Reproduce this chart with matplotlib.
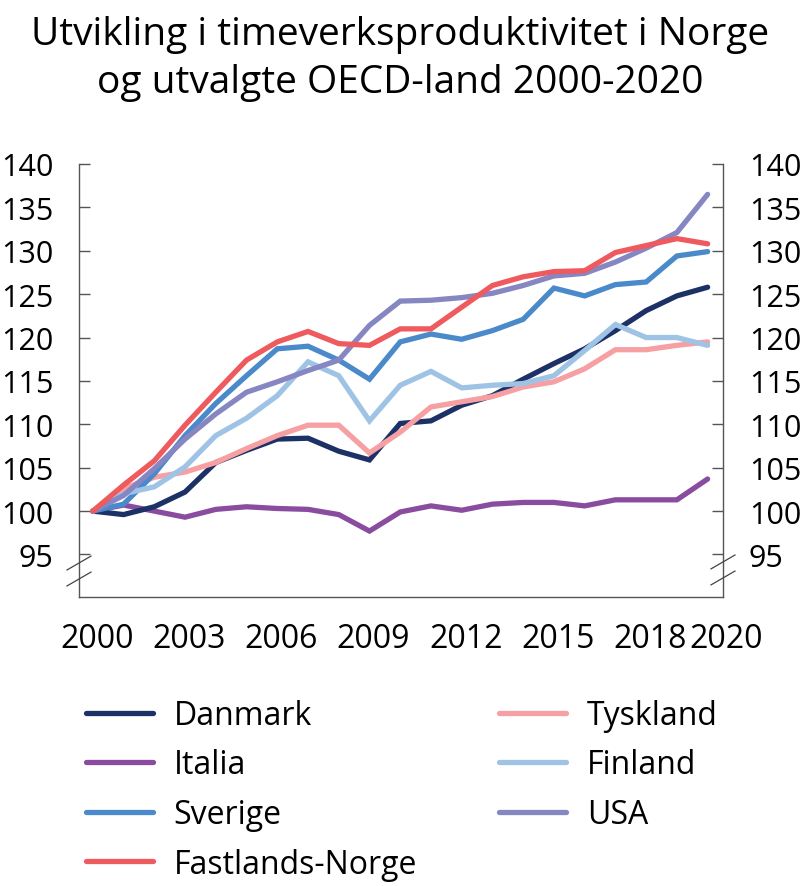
import matplotlib
matplotlib.use("Agg")
import matplotlib.pyplot as plt
from matplotlib.transforms import ScaledTranslation

plt.rcParams['font.family'] = ['Open Sans', 'DejaVu Sans']

years = list(range(2000, 2021))
danmark = [100, 99.6, 100.5, 102.2, 105.6, 107.0, 108.3, 108.4, 106.9, 105.9,
           110.1, 110.4, 112.2, 113.3, 115.2, 117.0, 118.7, 120.8, 123.1, 124.8, 125.8]
italia = [100, 100.7, 100.0, 99.3, 100.2, 100.5, 100.3, 100.2, 99.6, 97.7,
          99.9, 100.6, 100.1, 100.8, 101.0, 101.0, 100.6, 101.3, 101.3, 101.3, 103.7]
sverige = [100, 100.8, 104.3, 108.7, 112.4, 115.6, 118.7, 119.0, 117.4, 115.2,
           119.5, 120.4, 119.8, 120.8, 122.1, 125.7, 124.8, 126.1, 126.4, 129.4, 129.9]
fastlands = [100, 103.0, 105.8, 109.9, 113.7, 117.4, 119.5, 120.7, 119.3, 119.1,
             121.0, 121.0, 123.5, 126.0, 127.0, 127.6, 127.7, 129.8, 130.6, 131.4, 130.8]
tyskland = [100, 102.6, 103.9, 104.5, 105.6, 107.2, 108.7, 109.9, 109.9, 106.7,
            109.1, 112.0, 112.6, 113.2, 114.3, 114.9, 116.4, 118.6, 118.6, 119.1, 119.5]
finland = [100, 102.0, 102.8, 105.1, 108.7, 110.7, 113.3, 117.2, 115.6, 110.4,
           114.5, 116.1, 114.2, 114.5, 114.7, 115.6, 118.5, 121.5, 120.0, 120.0, 119.1]
usa = [100, 101.8, 104.9, 108.3, 111.2, 113.7, 114.9, 116.2, 117.4, 121.4,
       124.2, 124.3, 124.6, 125.1, 126.0, 127.1, 127.4, 128.7, 130.3, 132.1, 136.5]

series_names = ['Danmark', 'Italia', 'Sverige', 'Fastlands-Norge', 'Tyskland', 'Finland', 'USA']
series_values = [danmark, italia, sverige, fastlands, tyskland, finland, usa]
colors = ['#1c3166', '#8a4c9f', '#4a8acb', '#ee5a5e', '#f6a0a3', '#9fc3e5', '#8686c3']

yticks = [95, 100, 105, 110, 115, 120, 125, 130, 135, 140]
xticks = [2000, 2003, 2006, 2009, 2012, 2015, 2018, 2020]
title_lines = ['Utvikling i timeverksproduktivitet i Norge', 'og utvalgte OECD-land 2000-2020']

fig = plt.figure(figsize=(8.0, 8.87), dpi=100)
ax = fig.add_axes([0.09875, 0.3258, 0.805, 0.4882])

zorders = [3, 2, 4, 6, 3, 4, 5]
for name, vals, c, z in zip(series_names, series_values, colors, zorders):
    ax.plot(years, vals, color=c, lw=3.8, label=name, zorder=z,
            solid_capstyle='round', solid_joinstyle='miter')

ax.set_xlim(1999.55, 2020.5)
ax.set_ylim(90.1, 140)
ax.set_xticks(xticks)
ax.set_yticks(yticks)
ax.tick_params(axis='x', length=0, pad=18, labelsize=23)
ax.tick_params(axis='y', direction='in', length=8, width=1, color='#555555',
               labelsize=22, left=True, right=True, labelleft=True, labelright=True, pad=18.5)
ax.spines['top'].set_visible(False)
for s in ['left', 'right', 'bottom']:
    ax.spines[s].set_color('#555555')
    ax.spines[s].set_linewidth(1.0)

# shift x tick labels slightly right, last one further (as in reference)
for i, lab in enumerate(ax.get_xticklabels()):
    shift = 18 if i == len(xticks) - 1 else 4
    lab.set_transform(lab.get_transform() + ScaledTranslation(shift / 100, 0, fig.dpi_scale_trans))

# break marks on y axes
dx, dy = 0.0186, 0.016
for xc, ycs in [(0.0, [0.0785, 0.0416]), (1.0, [0.081, 0.044])]:
    for yc in ycs:
        ax.plot([xc - dx, xc + dx], [yc - dy, yc + dy], transform=ax.transAxes,
                color='#444444', lw=0.9, clip_on=False, zorder=10)

fig.text(0.5, 1 - 45 / 887, title_lines[0], ha='center', va='baseline', fontsize=28)
fig.text(0.5, 1 - 93 / 887, title_lines[1], ha='center', va='baseline', fontsize=28)

fig.legend(loc='upper left', bbox_to_anchor=(0.107, 0.211), ncol=2, frameon=False,
           fontsize=23, handlelength=2.1, handletextpad=0.66, columnspacing=2.56,
           labelspacing=0.52, borderaxespad=0, borderpad=0)

fig.savefig('out.png', dpi=100)
